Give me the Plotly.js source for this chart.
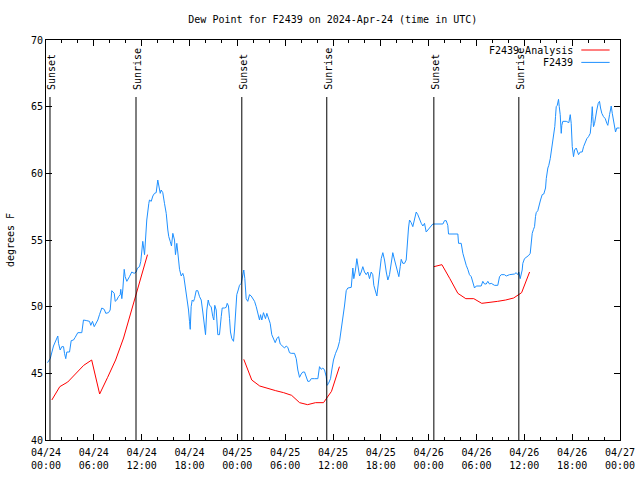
<!DOCTYPE html>
<html>
<head>
<meta charset="utf-8">
<script src="https://cdn.plot.ly/plotly-3.0.1.min.js"></script>
<style>html,body{margin:0;padding:0;background:#fff;}#chart{width:640px;height:480px;}</style>
</head>
<body>
<div id="chart"></div>
<script>
// Hours since 2024-04-24 00:00 UTC
const tickHours = [0, 6, 12, 18, 24, 30, 36, 42, 48, 54, 60, 66, 72];
const tickLabels = ['04/24<br>00:00','04/24<br>06:00','04/24<br>12:00','04/24<br>18:00',
  '04/25<br>00:00','04/25<br>06:00','04/25<br>12:00','04/25<br>18:00',
  '04/26<br>00:00','04/26<br>06:00','04/26<br>12:00','04/26<br>18:00','04/27<br>00:00'];

const sunHours = [0.5, 11.29, 24.56, 35.22, 48.65, 59.31];
const sunLabels = ['Sunset', 'Sunrise', 'Sunset', 'Sunrise', 'Sunset', 'Sunrise'];

// F2439 Analysis (hourly, one run per night)
const analysisDay1Hours = [0.73,1.73,2.73,3.73,4.73,5.73,6.73,7.73,8.73,9.73,10.73,11.73,12.73];
const analysisDay1Values = [43.0,44.0,44.35,45.0,45.6,46.0,43.45,44.7,46.0,47.65,49.75,52.0,53.9];
const analysisDay2Hours = [24.81,25.81,26.81,27.81,28.81,29.81,30.81,31.81,32.81,33.81,34.81,35.81,36.81];
const analysisDay2Values = [46.05,44.5,44.05,43.85,43.7,43.55,43.35,42.8,42.65,42.8,42.8,43.65,45.5];
const analysisDay3Hours = [48.66,49.66,50.66,51.66,52.66,53.66,54.66,55.66,56.66,57.66,58.66,59.66,60.66];
const analysisDay3Values = [53.0,53.15,52.1,51.0,50.6,50.6,50.25,50.3,50.4,50.5,50.65,51.05,52.6];

// F2439 observations
const stationHours = [0.19,0.53,0.94,1.28,1.48,1.57,1.78,1.98,2.20,2.32,2.48,2.61,2.95,3.16,3.45,3.66,3.86,3.99,4.49,4.70,
  5.12,5.46,5.62,5.83,6.05,6.30,6.50,6.71,7.00,7.30,7.50,7.84,8.05,8.25,8.56,8.68,8.88,9.09,9.31,9.38,
  9.51,9.63,9.81,9.93,10.14,10.47,10.76,11.06,11.31,11.48,11.73,11.89,12.02,12.14,12.36,12.48,12.64,12.90,12.98,13.20,
  13.40,13.61,13.82,14.02,14.15,14.33,14.45,14.65,14.86,15.08,15.28,15.40,15.58,15.74,15.91,16.12,16.24,16.41,16.53,16.75,
  16.96,17.16,17.29,17.50,17.66,17.88,18.00,18.09,18.21,18.34,18.50,18.63,18.84,19.04,19.26,19.47,19.67,19.88,20.01,20.17,
  20.35,20.51,20.72,20.92,21.05,21.17,21.35,21.55,21.76,21.98,22.10,22.39,22.60,22.73,22.89,23.02,23.14,23.31,23.52,23.65,
  23.77,23.93,24.11,24.27,24.49,24.69,24.81,24.94,25.11,25.31,25.53,25.74,25.94,26.16,26.37,26.57,26.78,26.91,27.07,27.28,
  27.53,27.70,27.91,28.12,28.32,28.54,28.75,28.95,29.17,29.38,29.70,29.92,30.13,30.33,30.54,30.76,31.17,31.39,31.59,31.80,
  32.01,32.21,32.43,32.64,32.84,33.05,33.27,33.68,34.10,34.31,34.52,34.72,34.94,35.15,35.27,35.44,35.69,35.85,36.06,36.32,
  36.60,36.82,37.03,37.23,37.44,37.66,37.86,38.29,38.49,38.61,38.82,38.99,39.11,39.33,39.54,39.74,39.95,40.17,40.37,40.58,
  40.79,40.99,41.12,41.30,41.50,41.62,41.83,42.05,42.25,42.46,42.68,42.88,43.09,43.30,43.50,43.72,43.93,44.13,44.26,44.43,
  44.56,44.76,44.97,45.18,45.31,45.47,45.60,45.81,46.01,46.23,46.44,46.64,46.85,47.07,47.27,47.48,47.69,47.89,48.11,48.32,
  48.52,49.78,49.99,50.20,50.40,50.49,51.66,51.75,52.08,52.29,52.50,52.71,52.91,53.12,53.34,53.54,53.75,53.97,54.59,54.79,
  55.01,55.22,55.42,55.63,55.85,56.26,56.67,56.89,57.10,57.51,57.73,58.14,58.56,58.77,58.98,59.18,59.31,59.48,59.73,59.81,
  60.02,60.31,60.56,60.74,60.86,60.99,61.15,61.28,61.40,61.49,61.69,61.91,62.03,62.24,62.44,62.66,62.75,62.95,63.07,63.25,
  63.37,63.50,63.57,63.70,63.82,63.91,64.00,64.13,64.20,64.29,64.38,64.50,64.63,64.70,64.83,65.26,65.58,65.76,65.88,66.01,
  66.17,66.30,66.51,66.63,66.80,67.01,67.26,67.43,67.64,67.84,68.05,68.27,68.39,68.52,68.59,68.68,68.81,68.93,69.09,69.27,
  69.43,69.56,69.72,69.93,70.15,70.35,70.47,70.69,70.90,71.03,71.19,71.32,71.44,71.60,71.94];
const stationValues = [45.8,46.1,47.05,47.5,47.8,47.25,46.75,47.0,47.0,46.5,46.1,46.6,46.6,47.45,47.5,47.7,47.9,48.05,48.05,49.0,
  48.95,48.9,48.6,48.9,48.5,48.75,49.0,49.4,49.9,49.8,49.5,49.55,49.75,51.2,51.0,50.4,50.5,50.75,50.9,51.3,
  50.6,51.25,52.8,52.25,51.9,52.25,52.6,52.5,52.6,52.9,53.0,53.4,54.25,54.9,53.9,55.0,56.5,57.75,58.0,57.9,
  58.3,58.5,58.55,59.5,58.9,58.5,58.75,58.55,57.75,57.0,55.75,55.25,54.9,54.55,55.5,55.0,53.9,54.75,54.1,52.8,
  52.3,52.5,52.25,51.4,50.6,49.75,48.9,48.3,50.0,50.5,50.4,50.6,51.2,51.2,50.75,50.5,49.6,48.75,47.9,49.75,
  50.5,50.1,50.0,49.25,49.0,50.1,49.75,47.9,47.9,49.25,49.9,49.9,49.95,50.25,50.05,49.1,48.1,47.6,47.4,48.25,
  49.75,50.9,51.25,51.6,51.75,52.4,52.75,52.1,50.6,50.4,50.9,50.8,50.6,50.4,50.0,49.5,49.0,49.4,49.0,49.55,
  49.1,49.5,49.05,48.75,47.9,47.6,47.3,47.6,47.75,47.2,47.0,46.9,47.05,46.95,46.55,46.5,46.5,46.1,45.25,44.7,
  44.95,45.1,45.1,44.8,44.4,44.4,44.6,44.6,44.6,45.5,45.3,45.4,45.25,44.75,44.1,44.25,44.6,45.25,46.0,46.5,
  46.9,47.4,48.2,49.3,50.05,51.2,51.4,51.45,52.9,52.1,52.75,53.6,53.1,52.3,52.6,53.0,52.6,52.4,52.6,52.1,
  52.6,52.4,51.6,51.1,50.8,51.4,52.5,53.6,54.05,53.5,52.6,52.0,52.4,53.25,54.05,53.5,53.0,52.6,52.25,53.0,
  53.55,53.25,53.25,53.5,54.75,55.9,56.5,56.3,56.0,56.6,57.1,56.9,56.55,56.25,56.05,56.25,55.6,55.75,55.9,56.05,
  56.2,56.2,56.45,56.45,56.1,55.45,55.45,54.75,54.75,54.0,53.5,53.1,52.8,52.4,52.25,51.9,51.4,51.55,51.55,51.9,
  51.7,51.7,51.9,51.7,51.75,51.6,51.6,52.25,52.4,52.4,52.3,52.4,52.4,52.45,52.55,52.4,52.6,52.1,52.75,53.25,
  53.6,53.7,53.85,54.0,54.75,55.5,55.8,56.0,56.75,57.05,57.2,57.6,58.0,58.4,58.45,58.9,59.6,60.4,60.6,61.1,
  61.6,62.4,62.75,63.25,63.5,64.25,65.0,65.1,65.4,65.55,65.0,64.4,63.0,63.6,63.9,63.9,63.8,64.4,63.75,62.0,
  61.25,61.75,61.9,61.6,61.4,61.6,61.6,62.0,62.4,62.6,62.75,63.0,63.75,65.0,64.25,63.5,63.75,64.25,64.75,65.25,
  65.4,64.9,64.5,64.25,64.1,63.75,63.6,64.4,65.05,64.5,64.0,63.3,63.1,63.4,63.4];

const seriesNames = ['F2439 Analysis', 'F2439'];
const seriesColors = ['#ff0000', '#1e90ff'];

const FONT = 'DejaVu Sans Mono, monospace';

const analysisX = analysisDay1Hours.concat([null], analysisDay2Hours, [null], analysisDay3Hours);
const analysisY = analysisDay1Values.concat([null], analysisDay2Values, [null], analysisDay3Values);

const traces = [
  {x: analysisX, y: analysisY, type: 'scatter', mode: 'lines', name: seriesNames[0],
   line: {color: seriesColors[0], width: 1}, connectgaps: false, showlegend: false},
  {x: stationHours, y: stationValues, type: 'scatter', mode: 'lines', name: seriesNames[1],
   line: {color: seriesColors[1], width: 1}, showlegend: false}
];

const shapes = [];
const annotations = [];
sunHours.forEach((h, i) => {
  shapes.push({type: 'line', xref: 'x', yref: 'paper', x0: h, x1: h, y0: 0, y1: 0.8575,
    line: {color: '#000', width: 1}});
  annotations.push({xref: 'x', yref: 'paper', x: h, y: 0.87, text: sunLabels[i], textangle: -90,
    showarrow: false, xanchor: 'center', yanchor: 'bottom', xshift: 1,
    font: {family: FONT, size: 10, color: '#000'}});
});
// gnuplot-style key: text right-aligned, sample line on the right
const keyY = [0.975, 0.944];
seriesNames.forEach((n, i) => {
  annotations.push({xref: 'paper', yref: 'paper', x: 0.921, y: keyY[i], text: n, showarrow: false,
    xanchor: 'right', yanchor: 'middle', font: {family: FONT, size: 10, color: '#000'}});
  shapes.push({type: 'line', xref: 'paper', yref: 'paper', x0: 0.9326, x1: 0.9819, y0: keyY[i], y1: keyY[i],
    line: {color: seriesColors[i], width: 1}});
});

const layout = {
  width: 640, height: 480,
  margin: {l: 46, r: 20, t: 40, b: 40},
  paper_bgcolor: '#fff', plot_bgcolor: '#fff',
  font: {family: FONT, size: 10, color: '#000'},
  title: {text: 'Dew Point for F2439 on 2024-Apr-24 (time in UTC)', x: 0.52, xanchor: 'center', y: 0.96, yanchor: 'middle',
    font: {family: FONT, size: 10, color: '#000'}},
  xaxis: {range: [0, 72], tickmode: 'array', tickvals: tickHours, ticktext: tickLabels,
    ticks: 'inside', ticklen: 6, tickcolor: '#000', showline: true, linecolor: '#000', linewidth: 1,
    mirror: 'ticks', showgrid: false, zeroline: false, fixedrange: true, ticklabelstandoff: 3,
    minor: {dtick: 2, tick0: 0, ticks: 'inside', ticklen: 3, tickcolor: '#000', showgrid: false},
    tickfont: {family: FONT, size: 10, color: '#000'}},
  yaxis: {range: [40, 70], tickmode: 'linear', tick0: 40, dtick: 5,
    ticks: 'inside', ticklen: 6, tickcolor: '#000', showline: true, linecolor: '#000', linewidth: 1,
    mirror: 'ticks', showgrid: false, zeroline: false, fixedrange: true,
    title: {text: 'degrees F', standoff: 14, font: {family: FONT, size: 10, color: '#000'}},
    tickfont: {family: FONT, size: 10, color: '#000'}},
  shapes: shapes,
  annotations: annotations,
  showlegend: false
};

Plotly.newPlot('chart', traces, layout, {displayModeBar: false, staticPlot: true});
</script>
</body>
</html>
